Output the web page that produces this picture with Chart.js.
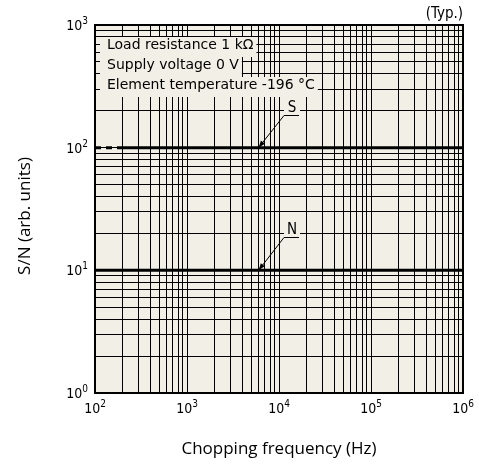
<!DOCTYPE html>
<html>
<head>
<meta charset="utf-8">
<script src="https://cdn.jsdelivr.net/npm/chart.js@4.4.1/dist/chart.umd.min.js"></script>
<style>
  html, body { margin: 0; padding: 0; background: #fff; }
</style>
</head>
<body>
<canvas id="chart" width="479" height="470"></canvas>
<script>
// --- data ---
const freqS = [100, 200, 1000000];   // Hz, first segment is dashed
const snS = [100, 100, 100];
const freqN = [100, 1000000];
const snN = [10, 10];

const xDecades = [100, 1000, 10000, 100000, 1000000];
const yDecades = [1, 10, 100, 1000];

const notes = ["Load resistance 1 k\u03A9", "Supply voltage 0 V", "Element temperature -196 \u00B0C"];
const xTitle = "Chopping frequency (Hz)";
const yTitle = "S/N (arb. units)";
const typNote = "(Typ.)";

// where the S / N callout arrows point
const calloutS = { text: "S", x: 6000, y: 100 };
const calloutN = { text: "N", x: 6000, y: 10 };

// --- styles ---
const BG = "#f1efe6";
const TICK_FONT = '14px "DejaVu Sans Condensed", "DejaVu Sans", sans-serif';
const SUP_FONT = '10px "DejaVu Sans Condensed", "DejaVu Sans", sans-serif';
const NOTE_FONT = '14px "DejaVu Sans", sans-serif';
const LABEL_FONT = '15px "DejaVu Sans Condensed", "DejaVu Sans", sans-serif';
const TITLE_FONT = '17px "Open Sans", "Noto Sans", sans-serif';

// gridlines at 1..9 of every decade
function logGrid(decades) {
  const out = [];
  for (let i = 0; i < decades.length - 1; i++) {
    for (let m = 1; m <= 9; m++) out.push(m * decades[i]);
  }
  out.push(decades[decades.length - 1]);
  return out;
}

function powerLabel(ctx, value, x, y, align) {
  const exp = String(Math.round(Math.log10(value)));
  ctx.font = TICK_FONT;
  const wb = ctx.measureText("10").width;
  ctx.font = SUP_FONT;
  const we = ctx.measureText(exp).width;
  const left = align === "right" ? x - wb - we : x - (wb + we) / 2;
  ctx.textAlign = "left";
  ctx.textBaseline = "alphabetic";
  ctx.fillStyle = "#000";
  ctx.font = TICK_FONT;
  ctx.fillText("10", left, y);
  ctx.font = SUP_FONT;
  ctx.fillText(exp, left + wb, y - 6);
}

function drawCallout(ctx, chart, c) {
  const tipX = chart.scales.x.getPixelForValue(c.x);
  const tipY = chart.scales.y.getPixelForValue(c.y);
  const ex = Math.round(tipX + 25), ey = Math.round(tipY - 33);
  ctx.font = LABEL_FONT;
  ctx.fillStyle = BG;
  ctx.fillRect(ex, ey - 17, 16, 17);
  ctx.fillStyle = "#000";
  ctx.textAlign = "center";
  ctx.textBaseline = "alphabetic";
  ctx.fillText(c.text, ex + 8, ey - 3);
  ctx.strokeStyle = "#000";
  ctx.lineWidth = 1;
  ctx.beginPath();
  ctx.moveTo(ex, ey + 0.5);
  ctx.lineTo(ex + 15, ey + 0.5);
  ctx.stroke();
  ctx.beginPath();
  ctx.moveTo(ex, ey + 0.5);
  ctx.lineTo(tipX, tipY);
  ctx.stroke();
  // arrow head
  const ang = Math.atan2(tipY - ey, tipX - ex);
  const len = 7, half = 2.5;
  ctx.beginPath();
  ctx.moveTo(tipX, tipY);
  ctx.lineTo(tipX - len * Math.cos(ang) + half * Math.sin(ang), tipY - len * Math.sin(ang) - half * Math.cos(ang));
  ctx.lineTo(tipX - len * Math.cos(ang) - half * Math.sin(ang), tipY - len * Math.sin(ang) + half * Math.cos(ang));
  ctx.closePath();
  ctx.fill();
}

const decor = {
  id: "decor",
  beforeDraw(chart) {
    const { ctx, chartArea: a } = chart;
    ctx.save();
    ctx.fillStyle = BG;
    ctx.fillRect(a.left, a.top, a.right - a.left, a.bottom - a.top);
    ctx.restore();
  },
  afterDraw(chart) {
    const { ctx, chartArea: a, scales } = chart;
    ctx.save();

    // frame
    ctx.strokeStyle = "#000";
    ctx.lineWidth = 2;
    ctx.strokeRect(a.left, a.top, a.right - a.left, a.bottom - a.top);

    // tick labels
    yDecades.forEach(v => powerLabel(ctx, v, a.left - 7, scales.y.getPixelForValue(v) + 5, "right"));
    xDecades.forEach(v => powerLabel(ctx, v, scales.x.getPixelForValue(v), a.bottom + 20, "center"));

    // condition notes, each on its own background strip
    ctx.font = NOTE_FONT;
    notes.forEach((t, i) => {
      const base = a.top + 24 + i * 20;
      const w = ctx.measureText(t).width;
      ctx.fillStyle = BG;
      ctx.fillRect(a.left + 5, base - 12, w + 10, 20);
      ctx.fillStyle = "#000";
      ctx.textAlign = "left";
      ctx.textBaseline = "alphabetic";
      ctx.fillText(t, a.left + 12, base);
    });

    drawCallout(ctx, chart, calloutS);
    drawCallout(ctx, chart, calloutN);

    // (Typ.)
    ctx.font = '15px "DejaVu Sans Condensed", "DejaVu Sans", sans-serif';
    ctx.fillStyle = "#000";
    ctx.textAlign = "right";
    ctx.fillText(typNote, a.right, a.top - 7);

    // axis titles
    ctx.font = TITLE_FONT;
    ctx.textAlign = "center";
    ctx.fillText(xTitle, (a.left + a.right) / 2, 454);
    ctx.translate(30, 216);
    ctx.rotate(-Math.PI / 2);
    ctx.fillText(yTitle, 0, 0);
    ctx.restore();
  }
};

function gridScale(decades) {
  return {
    type: "logarithmic",
    min: decades[0],
    max: decades[decades.length - 1],
    afterBuildTicks: scale => {
      scale.ticks = logGrid(decades).map(v => ({ value: v }));
    },
    ticks: { display: false },
    grid: { color: "#000", lineWidth: 1, drawTicks: false },
    border: { display: false }
  };
}

new Chart(document.getElementById("chart"), {
  type: "line",
  data: {
    datasets: [
      {
        label: "S",
        data: freqS.map((f, i) => ({ x: f, y: snS[i] })),
        borderColor: "#000",
        borderWidth: 3,
        borderCapStyle: "butt",
        pointRadius: 0,
        segment: {
          borderDash: c => (c.p0DataIndex === 0 ? [6, 5] : [])
        }
      },
      {
        label: "N",
        data: freqN.map((f, i) => ({ x: f, y: snN[i] })),
        borderColor: "#000",
        borderWidth: 3,
        pointRadius: 0
      }
    ]
  },
  options: {
    responsive: false,
    animation: false,
    layout: { padding: { left: 95, top: 25, right: 16, bottom: 77 } },
    plugins: { legend: { display: false }, tooltip: { enabled: false } },
    scales: {
      x: gridScale(xDecades),
      y: gridScale(yDecades)
    }
  },
  plugins: [decor]
});
</script>
</body>
</html>
